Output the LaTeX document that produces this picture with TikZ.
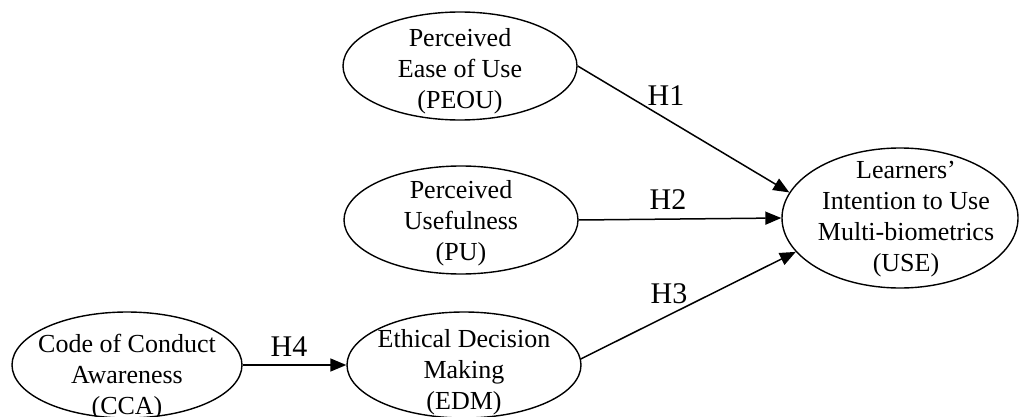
\documentclass[tikz,border=0pt]{standalone}
\usepackage{fontspec}
\setmainfont{Liberation Serif}
\usetikzlibrary{shapes.geometric,arrows.meta}
\tikzset{
  ell/.style={draw, ellipse, line width=1.4pt, inner sep=0pt},
  txt/.style={align=center, font=\fontsize{26}{31}\selectfont, inner sep=0pt},
  lab/.style={font=\fontsize{30}{34}\selectfont, inner sep=0pt},
  arr/.style={line width=1.5pt, -{Triangle[length=16pt,width=13pt]}}
}
\begin{document}
\begin{tikzpicture}[x=1pt,y=-1pt]
\useasboundingbox (0,0) rectangle (1019,417);
% ellipses
\node[ell, minimum width=234pt, minimum height=108pt] (peou) at (460,66) {};
\node[ell, minimum width=234pt, minimum height=108pt] (pu) at (461,220) {};
\node[ell, minimum width=234pt, minimum height=106pt] (edm) at (464,365) {};
\node[ell, minimum width=230pt, minimum height=106pt] (cca) at (127,365) {};
\node[ell, minimum width=236pt, minimum height=140pt] (use) at (900,218) {};
% texts
\node[txt] (tpeou) at (460,71) {Perceived\\Ease of Use\\(PEOU)};
\node[txt] (tpu) at (461,223) {Perceived\\Usefulness\\(PU)};
\node[txt] (tedm) at (464,372) {Ethical Decision\\Making\\(EDM)};
\node[txt] (tcca) at (127,377) {Code of Conduct\\Awareness\\(CCA)};
\node[txt] (tuse) at (906,219) {Learners'\\Intention to Use\\Multi-biometrics\\(USE)};
% connectors
\draw[arr] (peou.east) -- (use.167);
\draw[arr] (pu.east) -- (use.west);
\draw[arr] (edm.3) -- (use.198);
\draw[arr] (cca.east) -- (edm.west);
% labels
\node[lab] (h1) at (666,96) {H1};
\node[lab] (h2) at (668,200) {H2};
\node[lab] (h3) at (669,294) {H3};
\node[lab] (h4) at (289,347) {H4};
\end{tikzpicture}
\end{document}
